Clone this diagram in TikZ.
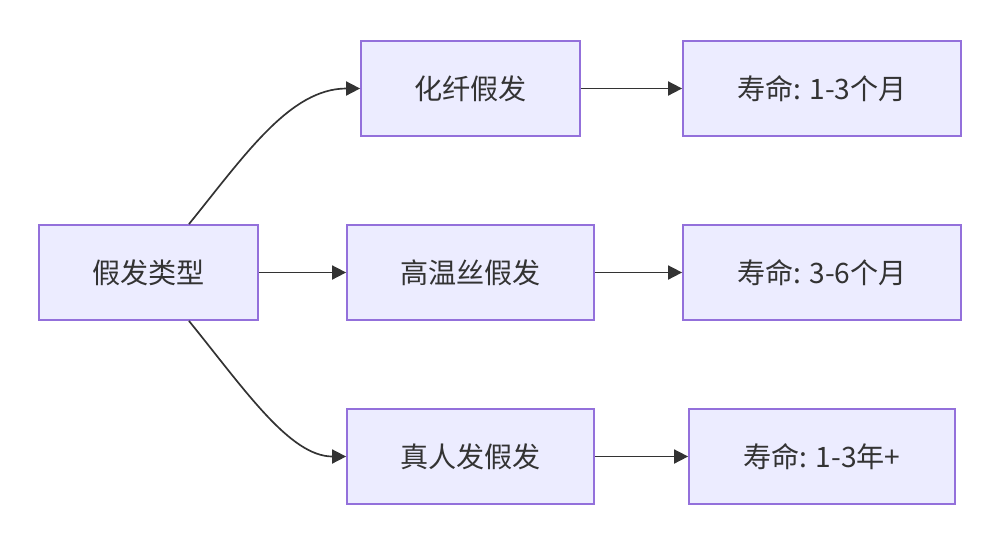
\documentclass[tikz,border=0pt]{standalone}
\usepackage{fontspec}
\setmainfont{Noto Sans CJK SC}
\usetikzlibrary{arrows.meta,positioning}
\definecolor{WigFill}{HTML}{ECECFF}
\definecolor{WigLine}{HTML}{9370DB}
\definecolor{WigArrow}{HTML}{333333}
\definecolor{WigText}{HTML}{333333}

\begin{document}
\begin{tikzpicture}[
    x=0.025cm, y=-0.025cm,
    box/.style={
      draw=WigLine,
      fill=WigFill,
      line width=1.2pt,
      minimum width=#1,
      minimum height=2.375cm,
      text=WigText,
      font=\fontsize{20}{24}\selectfont,
      inner sep=0pt
    },
    arr/.style={
      -{Triangle[length=10pt,width=10pt]},
      line width=1.2pt,
      color=WigArrow
    }
  ]
  \useasboundingbox (0,0) rectangle (1000,541);

  % root
  \node[box=5.475cm] (type) at (148.5,272.5) {假发类型};

  % wig kinds
  \node[box=5.475cm] (fiber) at (470.5,88.5) {化纤假发};
  \node[box=6.175cm] (heat) at (470.5,272.5) {高温丝假发};
  \node[box=6.175cm] (human) at (470.5,456.5) {真人发假发};

  % lifetimes
  \node[box=6.95cm] (lifeA) at (822,88.5) {寿命: 1-3个月};
  \node[box=6.95cm] (lifeB) at (822,272.5) {寿命: 3-6个月};
  \node[box=6.65cm] (lifeC) at (822,456.5) {寿命: 1-3年+};

  % Arrows
  \draw[arr] ([xshift=1.01cm]type.north)
    .. controls (245,155) and (290,88.5) .. (fiber.west);
  \draw[arr] (type) -- (heat);
  \draw[arr] ([xshift=1.01cm]type.south)
    .. controls (245,390) and (290,456.5) .. (human.west);
  \draw[arr] (fiber) -- (lifeA);
  \draw[arr] (heat) -- (lifeB);
  \draw[arr] (human) -- (lifeC);
\end{tikzpicture}
\end{document}
